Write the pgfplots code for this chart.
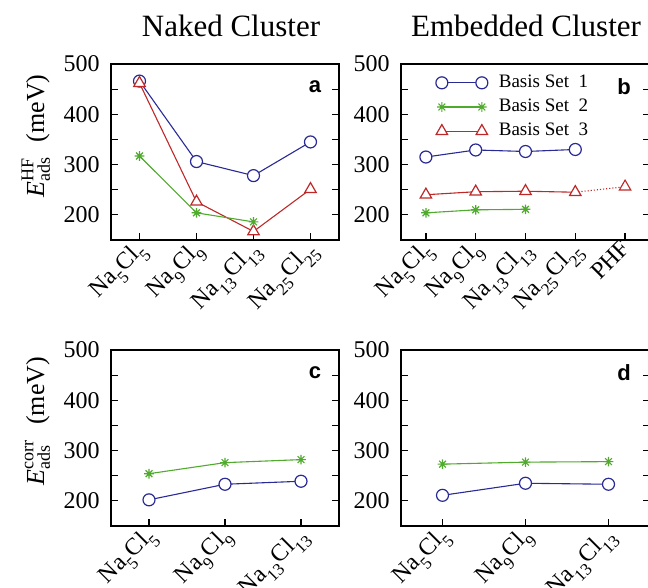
\documentclass[border=0pt]{standalone}
\usepackage{pgfplots}
\pgfplotsset{compat=1.18}
\usepackage{fontspec}
\setmainfont{Liberation Serif}
\newfontfamily\lettfont{Liberation Sans}
\definecolor{cblue}{RGB}{42,42,150}
\definecolor{cgreen}{RGB}{80,170,45}
\definecolor{cred}{RGB}{190,40,40}
\newcommand{\sub}[1]{\raisebox{-0.75ex}{\fontsize{8.5}{8.5}\selectfont #1}}
\newcommand{\nacl}[1]{Na\sub{#1}Cl\sub{#1}}
\pgfdeclareplotmark{ast8}{%
  \pgfpathmoveto{\pgfqpoint{-\pgfplotmarksize}{0pt}}\pgfpathlineto{\pgfqpoint{\pgfplotmarksize}{0pt}}%
  \pgfpathmoveto{\pgfqpoint{0pt}{-\pgfplotmarksize}}\pgfpathlineto{\pgfqpoint{0pt}{\pgfplotmarksize}}%
  \pgfpathmoveto{\pgfqpoint{-0.707\pgfplotmarksize}{-0.707\pgfplotmarksize}}\pgfpathlineto{\pgfqpoint{0.707\pgfplotmarksize}{0.707\pgfplotmarksize}}%
  \pgfpathmoveto{\pgfqpoint{-0.707\pgfplotmarksize}{0.707\pgfplotmarksize}}\pgfpathlineto{\pgfqpoint{0.707\pgfplotmarksize}{-0.707\pgfplotmarksize}}%
  \pgfusepathqstroke}
\tikzset{letter/.style={font=\lettfont\bfseries\fontsize{11}{11}\selectfont, anchor=center}}
\pgfplotsset{
  panel/.style={
    scale only axis, height=88pt, anchor=south west,
    ymin=150, ymax=500, ytick={200,300,400,500}, minor ytick={250,350,450},
    xtick pos=left, ytick pos=both, tick align=inside,
    major tick length=3.5pt, minor tick length=3.5pt,
    axis line style={line width=1pt},
    every tick/.style={black, line width=0.6pt},
    tick label style={font=\fontsize{12}{12}\selectfont},
    /pgf/number format/assume math mode=true,
    xticklabel style={font=\fontsize{12}{12}\selectfont, rotate=45, anchor=north east, inner sep=0pt, xshift=-1pt, yshift=2.5pt},
    yticklabel style={inner sep=0pt, xshift=-5.5pt},
    clip=false,
  },
  s1/.style={cblue, line width=0.55pt, mark=*, mark size=3pt, mark options={fill=white, draw=cblue, line width=0.6pt}},
  s2/.style={cgreen, line width=0.55pt, mark=ast8, mark size=2.4pt, mark options={line width=0.6pt}},
  s3/.style={cred, line width=0.55pt, mark=triangle*, mark size=3.3pt, mark options={fill=white, draw=cred, line width=0.6pt}},
}
\begin{document}
\begin{tikzpicture}
\useasboundingbox (0,0) rectangle (324pt,-294pt);
\node[font=\fontsize{15.5}{15.5}\selectfont, anchor=base] at (115.5pt,-18.5pt) {Naked Cluster};
\node[font=\fontsize{15.5}{15.5}\selectfont, anchor=base] at (263pt,-18.5pt) {Embedded Cluster};
\node[rotate=90, anchor=base, font=\fontsize{13}{13}\selectfont] at (22pt,-68pt)
  {$\mbox{\itshape E}^{\mbox{\fontsize{9}{9}\selectfont HF}}_{\mbox{\fontsize{9}{9}\selectfont ads}}$\hspace{0.55em}(meV)};
\node[rotate=90, anchor=base, font=\fontsize{13}{13}\selectfont] at (22pt,-210.5pt)
  {$\mbox{\itshape E}^{\mbox{\fontsize{9}{9}\selectfont corr}}_{\mbox{\fontsize{9}{9}\selectfont ads}}$\hspace{0.55em}(meV)};

% panel a
\begin{axis}[panel, at={(55.5pt,-120pt)}, width=114pt, xmin=-0.5, xmax=3.5,
  xtick={0,1,2,3}, xticklabels={\nacl{5},\nacl{9},\nacl{13},\nacl{25}}]
\addplot[s1] coordinates {(0,466) (1,306) (2,278) (3,345)};
\addplot[s3] coordinates {(0,462) (1,226) (2,167) (3,251)};
\addplot[s2] coordinates {(0,317) (1,204) (2,186)};
\node[letter] at (rel axis cs:1,1) [xshift=-12pt, yshift=-11.5pt] {a};
\end{axis}

% panel b
\begin{axis}[panel, at={(200.5pt,-120pt)}, width=124.5pt, xmin=-0.5, xmax=4.5,
  xtick={0,1,2,3,4}, xticklabels={\nacl{5},\nacl{9},\nacl{13},\nacl{25},PHF},
  legend style={draw=none, fill=none, inner sep=0pt, outer sep=0pt,
    at={(rel axis cs:0.14,0.96)}, anchor=north west,
    font=\fontsize{9.5}{9.5}\selectfont, row sep=0.3pt,
    /tikz/every odd column/.append style={column sep=3.5pt}},
  legend cell align=left,
  legend image code/.code={\draw[mark repeat=2, mark phase=1, #1] plot coordinates {(0pt,0pt) (10pt,0pt) (20pt,0pt)};}]
\addplot[s1] coordinates {(0,315) (1,329) (2,326) (3,330)};
\addlegendentry{Basis Set\ \ 1}
\addplot[s2] coordinates {(0,204) (1,210) (2,211)};
\addlegendentry{Basis Set\ \ 2}
\addplot[s3] coordinates {(0,240) (1,246) (2,247) (3,245)};
\addlegendentry{Basis Set\ \ 3}
\addplot[s3, densely dotted, mark indices={2}, mark options={solid, fill=white, draw=cred}, forget plot] coordinates {(3,245) (4,256)};
\node[letter] at (rel axis cs:1,1) [xshift=-13pt, yshift=-11.5pt] {b};
\end{axis}

% panel c
\begin{axis}[panel, at={(55.5pt,-263pt)}, width=114pt, xmin=-0.5, xmax=2.5,
  xtick={0,1,2}, xticklabels={\nacl{5},\nacl{9},\nacl{13}}]
\addplot[s2] coordinates {(0,254) (1,276) (2,282)};
\addplot[s1] coordinates {(0,202) (1,233) (2,239)};
\node[letter] at (rel axis cs:1,1) [xshift=-12pt, yshift=-11.5pt] {c};
\end{axis}

% panel d
\begin{axis}[panel, at={(200.5pt,-263pt)}, width=124.5pt, xmin=-0.5, xmax=2.5,
  xtick={0,1,2}, xticklabels={\nacl{5},\nacl{9},\nacl{13}}]
\addplot[s2] coordinates {(0,273) (1,277) (2,278)};
\addplot[s1] coordinates {(0,211) (1,235) (2,233)};
\node[letter] at (rel axis cs:1,1) [xshift=-13pt, yshift=-11.5pt] {d};
\end{axis}
\end{tikzpicture}
\end{document}
